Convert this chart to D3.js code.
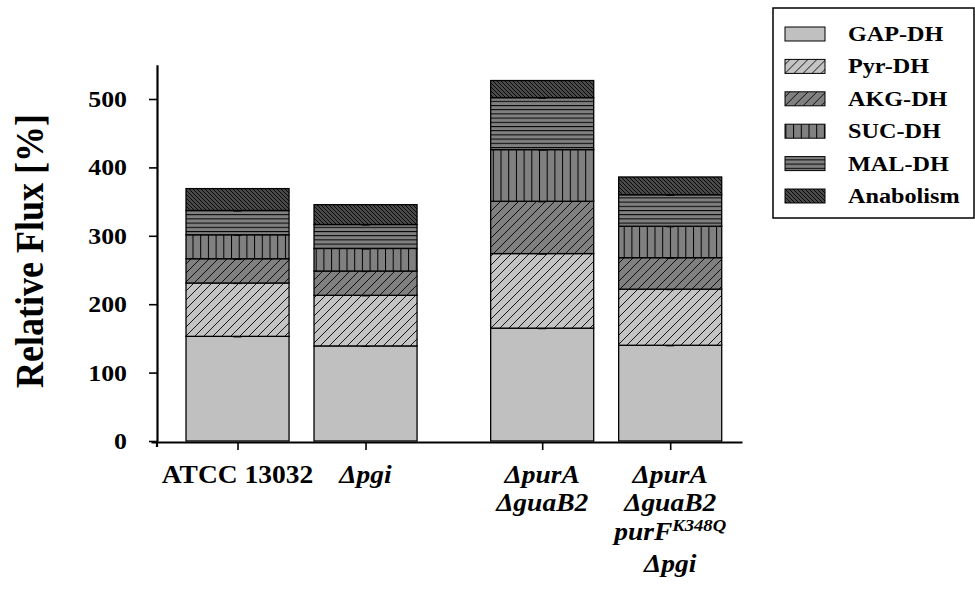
<!DOCTYPE html>
<html>
<head>
<meta charset="utf-8">
<script src="https://cdn.jsdelivr.net/npm/d3@7"></script>
<style>
body{margin:0;background:#fff}
svg text{font-family:"Liberation Serif","Times New Roman",serif;font-weight:bold;fill:#000}
</style>
</head>
<body>
<div class="canvas"></div>
<script>

// data
var strains = ["ATCC 13032", "Δpgi", "ΔpurA ΔguaB2", "ΔpurA ΔguaB2 purF Δpgi"];
var strainLines = [["ATCC 13032"], ["Δpgi"], ["ΔpurA", "ΔguaB2"], ["ΔpurA", "ΔguaB2", "purF", "Δpgi"]];
var superscripts = {"purF": "K348Q"};
var fluxes = ["GAP-DH", "Pyr-DH", "AKG-DH", "SUC-DH", "MAL-DH", "Anabolism"];
var gapDH = [153, 139, 165, 140];
var pyrDH = [78, 74, 109, 82];
var akgDH = [35.5, 35.5, 76.5, 46];
var sucDH = [35, 33, 75.5, 46];
var malDH = [35.5, 35, 76, 46];
var anabolism = [32, 29, 25, 26];
var yTicks = [0, 100, 200, 300, 400, 500];


// layout
var sx = 1.1;               // the picture is stretched sideways a bit
var slot = [0, 1, 2.38, 3.38]; // bar slots, gap before the double mutants

var svg = d3.select('.canvas')
    .append('svg')
    .attr('width', 975)
    .attr('height', 592);

var defs = svg.append('defs');
function hatch(id, base, w, h, d, sw) {
    var p = defs.append('pattern')
        .attr('id', id)
        .attr('patternUnits', 'userSpaceOnUse')
        .attr('width', w)
        .attr('height', h);
    p.append('rect').attr('width', w).attr('height', h).attr('fill', base);
    if (d) p.append('path').attr('d', d).attr('fill', 'none')
        .attr('stroke', '#000').attr('stroke-width', sw);
}
var slash = 'M-1,10L10,-1M-1,1L1,-1M8,10L10,8';
hatch('gap', '#c0c0c0', 10, 10, null, 0);
hatch('pyr', '#c4c4c4', 9, 9, slash, 0.9);
hatch('akg', '#808080', 9, 9, slash, 0.9);
hatch('suc', '#808080', 7.7, 10, 'M0.5,0V10', 1);
hatch('mal', '#808080', 10, 4.2, 'M0,0.5H10', 1);
hatch('ana', '#4a4a4a', 4, 4, 'M-1,-1L5,5M-1,3L1,5M3,-1L5,1', 0.9);
var fills = {
    "GAP-DH": "url(#gap)", "Pyr-DH": "url(#pyr)", "AKG-DH": "url(#akg)",
    "SUC-DH": "url(#suc)", "MAL-DH": "url(#mal)", "Anabolism": "url(#ana)"
};

var x = d3.scaleLinear().domain([-0.676, 3.941]).range([151, 742]);
var y = d3.scaleLinear().domain([0, 550]).range([441, 64.8]);
var bw = x(0.805) - x(0);

var rows = strains.map(function(s, i) {
    return {
        strain: s, "GAP-DH": gapDH[i], "Pyr-DH": pyrDH[i], "AKG-DH": akgDH[i],
        "SUC-DH": sucDH[i], "MAL-DH": malDH[i], "Anabolism": anabolism[i]
    };
});
var series = d3.stack().keys(fluxes)(rows);


// bars
var layer = svg.selectAll('.layer')
    .data(series)
    .enter().append('g')
    .attr('class', 'layer')
    .attr('fill', function(d) { return fills[d.key]; });

layer.selectAll('rect')
    .data(function(d) { return d; })
    .enter().append('rect')
    .attr('x', function(d, i) { return x(slot[i]) - bw / 2; })
    .attr('y', function(d) { return y(d[1]); })
    .attr('width', bw)
    .attr('height', function(d) { return y(d[0]) - y(d[1]); })
    .attr('stroke', '#000')
    .attr('stroke-width', 1.3);

// little error caps at the top of each segment
layer.filter(function(d) { return d.key != "Anabolism"; })
    .selectAll('line')
    .data(function(d) { return d; })
    .enter().append('line')
    .attr('x1', function(d, i) { return x(slot[i]) - 4; })
    .attr('x2', function(d, i) { return x(slot[i]) + 4; })
    .attr('y1', function(d) { return y(d[1]); })
    .attr('y2', function(d) { return y(d[1]); })
    .attr('stroke', '#000')
    .attr('stroke-width', 2.2);


// axes
var yAxis = svg.append('g')
    .attr('transform', 'translate(157,0)')
    .call(d3.axisLeft(y).tickValues(yTicks).tickSize(8).tickSizeOuter(0).tickPadding(22));
yAxis.select('.domain').attr('stroke-width', 2.2);
yAxis.selectAll('.tick line').attr('stroke-width', 1.6);
yAxis.selectAll('.tick text')
    .attr('font-size', 23.5)
    .attr('font-family', null)
    .attr('transform', 'scale(' + sx + ',1)')
    .attr('x', -30 / sx);

var xAxis = svg.append('g')
    .attr('transform', 'translate(0,442)')
    .call(d3.axisBottom(x).tickValues(slot).tickSize(8).tickSizeOuter(0).tickFormat(''));
xAxis.select('.domain').attr('stroke-width', 2.2);
xAxis.selectAll('.tick line').attr('stroke-width', 1.6);

// y axis runs a little below the x axis
svg.append('line')
    .attr('x1', 157).attr('x2', 157)
    .attr('y1', y(0)).attr('y2', 447)
    .attr('stroke', '#000').attr('stroke-width', 2.2);

// strain labels
var lineBase = [483, 511, 540, 572];
strainLines.forEach(function(lines, i) {
    lines.forEach(function(t, j) {
        var txt = svg.append('text')
            .attr('transform', 'translate(' + x(slot[i]) + ',' + lineBase[j] + ') scale(' + sx + ',1)')
            .attr('text-anchor', 'middle')
            .attr('font-size', 25)
            .attr('font-style', i == 0 ? 'normal' : 'italic');
        txt.append('tspan').text(t);
        if (superscripts[t]) {
            txt.append('tspan')
                .attr('font-size', 17)
                .attr('dy', -9)
                .text(superscripts[t]);
        }
    });
});

// y title
svg.append('text')
    .attr('transform', 'translate(30,251) scale(' + sx + ',1) rotate(-90)')
    .attr('text-anchor', 'middle')
    .attr('dy', '0.33em')
    .attr('font-size', 36)
    .text('Relative Flux [%]');


// legend
var legend = svg.append('g');
legend.append('rect')
    .attr('x', 773).attr('y', 8)
    .attr('width', 201).attr('height', 210)
    .attr('fill', 'none')
    .attr('stroke', '#000')
    .attr('stroke-width', 1.5);

var item = legend.selectAll('.item')
    .data(fluxes)
    .enter().append('g')
    .attr('class', 'item')
    .attr('transform', function(d, i) { return 'translate(0,' + (34 + i * 32.4) + ')'; });

item.append('rect')
    .attr('x', 785).attr('y', -7)
    .attr('width', 40).attr('height', 14)
    .attr('fill', function(d) { return fills[d]; })
    .attr('stroke', '#000')
    .attr('stroke-width', 1);

item.append('text')
    .attr('transform', 'translate(848,7) scale(' + sx + ',1)')
    .attr('font-size', 22)
    .text(function(d) { return d; });

</script>
</body>
</html>
